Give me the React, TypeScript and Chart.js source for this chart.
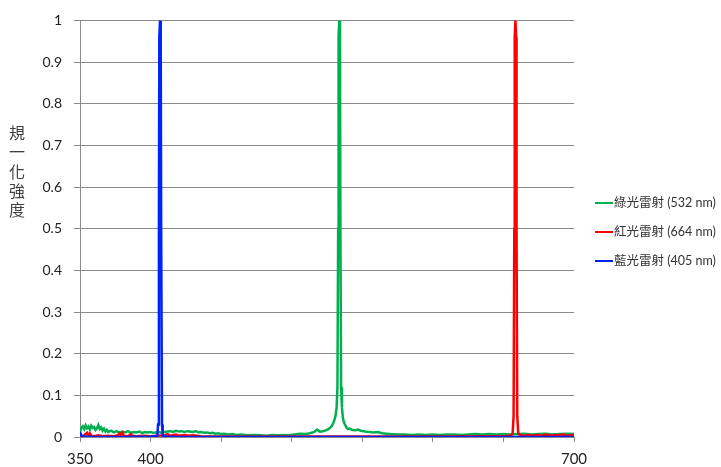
import React, { useEffect, useRef } from 'react';
import { Chart, registerables } from 'chart.js';

Chart.register(...registerables);

// [wavelength nm, normalized intensity]
const greenSpectrum: [number, number][] = [
  [350, 0.012], [351, 0.022], [352, 0.026], [353, 0.019], [354, 0.028], [355, 0.021], [356, 0.025],
  [357, 0.018], [358, 0.027], [359, 0.022], [360, 0.024], [361, 0.017], [362, 0.021], [363, 0.029],
  [364, 0.019], [365, 0.023], [366, 0.015], [367, 0.02], [368, 0.013], [369, 0.017], [370, 0.012],
  [372, 0.015], [374, 0.011], [376, 0.014], [378, 0.01], [380, 0.013], [382, 0.011], [384, 0.014],
  [386, 0.01], [388, 0.012], [390, 0.011], [392, 0.013], [394, 0.01], [396, 0.012], [398, 0.011],
  [400, 0.012], [402, 0.01], [404, 0.011], [406, 0.012], [408, 0.01], [410, 0.012], [412, 0.013],
  [414, 0.014], [416, 0.012], [418, 0.015], [420, 0.013], [422, 0.014], [424, 0.012], [426, 0.014],
  [428, 0.013], [430, 0.012], [432, 0.014], [434, 0.011], [436, 0.012], [438, 0.01], [440, 0.011],
  [442, 0.009], [444, 0.01], [446, 0.008], [448, 0.009], [450, 0.007], [452, 0.008], [455, 0.006],
  [458, 0.007], [461, 0.005], [464, 0.006], [467, 0.005], [470, 0.004], [474, 0.005], [478, 0.004],
  [482, 0.003], [486, 0.005], [490, 0.004], [494, 0.005], [498, 0.004], [502, 0.006], [506, 0.008],
  [510, 0.007], [513, 0.009], [516, 0.012], [518, 0.018], [520, 0.013], [522, 0.014], [524, 0.016],
  [526, 0.019], [528, 0.025], [529, 0.03], [530, 0.038], [531, 0.05], [531.8, 0.07], [532.4, 0.12],
  [532.9, 0.5], [533.2, 0.96], [533.7, 1.0], [534.2, 0.96], [534.5, 0.5], [535, 0.12], [535.6, 0.07],
  [536.3, 0.045], [537, 0.035], [538, 0.028], [539, 0.022], [540, 0.019], [541, 0.02], [543, 0.017],
  [545, 0.016], [547, 0.018], [549, 0.015], [552, 0.013], [555, 0.012], [558, 0.011], [561, 0.012],
  [564, 0.009], [567, 0.008], [570, 0.007], [575, 0.006], [580, 0.006], [585, 0.005], [590, 0.006],
  [595, 0.005], [600, 0.006], [605, 0.005], [610, 0.006], [615, 0.006], [620, 0.005], [625, 0.006],
  [630, 0.007], [635, 0.006], [640, 0.007], [645, 0.006], [650, 0.007], [655, 0.006], [660, 0.007],
  [665, 0.008], [670, 0.006], [675, 0.007], [680, 0.008], [685, 0.006], [690, 0.007], [695, 0.008],
  [700, 0.007],
];

const redSpectrum: [number, number][] = [
  [350, 0.003], [352, 0.002], [354, 0.007], [355, 0.01], [356, 0.004], [357, 0.009], [358, 0.003],
  [360, 0.002], [363, 0.004], [366, 0.002], [370, 0.003], [374, 0.002], [377, 0.004], [378, 0.009],
  [379, 0.005], [380, 0.01], [381, 0.003], [384, 0.002], [386, 0.007], [387, 0.003], [390, 0.002],
  [395, 0.003], [400, 0.002], [405, 0.003], [410, 0.004], [412, 0.007], [414, 0.003], [418, 0.006],
  [420, 0.003], [424, 0.005], [427, 0.003], [430, 0.004], [435, 0.002], [440, 0.001], [460, 0.001],
  [500, 0.001], [550, 0.001], [600, 0.001], [640, 0.002], [650, 0.002], [655, 0.003], [656.5, 0.008],
  [657.2, 0.05], [657.7, 0.5], [658, 0.96], [658.5, 1.0], [659, 0.96], [659.3, 0.5], [659.8, 0.05],
  [660.5, 0.008], [662, 0.004],
  [665, 0.003], [668, 0.005], [671, 0.003], [674, 0.005], [677, 0.003], [680, 0.006], [683, 0.003],
  [686, 0.005], [689, 0.004], [692, 0.006], [695, 0.003], [698, 0.005], [700, 0.004],
];

const blueSpectrum: [number, number][] = [
  [350, 0.012], [351, 0.003], [353, 0.001], [360, 0.0], [380, 0.0], [400, 0.001], [403, 0.002],
  [404.8, 0.003], [405.3, 0.03], [405.9, 0.5], [406.2, 0.96], [406.7, 1.0], [407.2, 0.96],
  [407.5, 0.5], [408.1, 0.03], [408.6, 0.003], [411, 0.001], [420, 0.0], [500, 0.0], [600, 0.0],
  [700, 0.0],
];

const seriesLabels = ['綠光雷射 (532 nm)', '紅光雷射 (664 nm)', '藍光雷射 (405 nm)'];
const seriesColors = ['#00B050', '#FF0000', '#0022FF'];
const xShownTicks = [350, 400, 700];
const yTitle = '規一化強度';

const GRID = '#8a8a8a';

const overlayPlugin = {
  id: 'overlay',
  afterDraw(chart: any) {
    const ctx = chart.ctx as CanvasRenderingContext2D;
    const ca = chart.chartArea;
    ctx.save();
    ctx.fillStyle = '#404040';
    ctx.font = '16px "Noto Sans CJK TC", sans-serif';
    ctx.textAlign = 'center';
    ctx.textBaseline = 'middle';
    Array.from(yTitle).forEach((ch, i) => ctx.fillText(ch, 17, 133 + i * 19.3));

    const x0 = ca.right + 21;
    chart.data.datasets.forEach((ds: any, i: number) => {
      const y = 203 + i * 29;
      ctx.strokeStyle = ds.borderColor;
      ctx.lineWidth = 2;
      ctx.beginPath();
      ctx.moveTo(x0, y);
      ctx.lineTo(x0 + 18, y);
      ctx.stroke();
      ctx.fillStyle = '#333333';
      ctx.font = '12.5px Lato, "Noto Sans CJK TC", sans-serif';
      ctx.textAlign = 'left';
      ctx.textBaseline = 'middle';
      ctx.fillText(ds.label, x0 + 19, y);
    });
    ctx.restore();
  },
};

export default function App() {
  const ref = useRef<HTMLCanvasElement>(null);
  useEffect(() => {
    if (!ref.current) return;
    const toPts = (s: [number, number][]) => s.map(([x, y]) => ({ x, y }));
    const spectra = [greenSpectrum, redSpectrum, blueSpectrum];
    const orders = [2, 1, 0];
    const chart = new Chart(ref.current, {
      type: 'line',
      data: {
        datasets: spectra.map((s, i) => ({
          label: seriesLabels[i],
          data: toPts(s),
          borderColor: seriesColors[i],
          backgroundColor: seriesColors[i],
          borderWidth: 2.5,
          pointRadius: 0,
          tension: 0,
          fill: false,
          order: orders[i],
        })),
      },
      options: {
        animation: false,
        responsive: true,
        maintainAspectRatio: false,
        events: [],
        layout: { padding: { top: 14, right: 147, left: 0, bottom: 0 } },
        plugins: { legend: { display: false }, tooltip: { enabled: false } },
        scales: {
          x: {
            type: 'linear',
            min: 350,
            max: 700,
            afterFit: (s: any) => { s.height = 30; },
            ticks: {
              stepSize: 50,
              autoSkip: false,
              maxRotation: 0,
              padding: 8,
              color: '#222222',
              font: { family: 'Lato, sans-serif', size: 15 },
              callback: (v: any) => (xShownTicks.includes(Number(v)) ? String(v) : ''),
            },
            grid: { drawOnChartArea: false, drawTicks: true, tickLength: 5, color: GRID },
            border: { display: true, color: GRID, width: 1 },
          },
          y: {
            min: 0,
            max: 1,
            afterFit: (s: any) => { s.width = 80; },
            ticks: {
              stepSize: 0.1,
              padding: 12,
              color: '#222222',
              font: { family: 'Lato, sans-serif', size: 14 },
              callback: (v: any) => String(Math.round(Number(v) * 10) / 10),
            },
            grid: { color: GRID, tickLength: 6, lineWidth: 1 },
            border: { display: true, color: GRID, width: 1 },
          },
        },
      },
      plugins: [overlayPlugin],
    });
    return () => chart.destroy();
  }, []);
  return (
    <div style={{ position: 'fixed', left: 0, top: 0, width: 721, height: 467, background: '#fff' }}>
      <canvas ref={ref} />
    </div>
  );
}
